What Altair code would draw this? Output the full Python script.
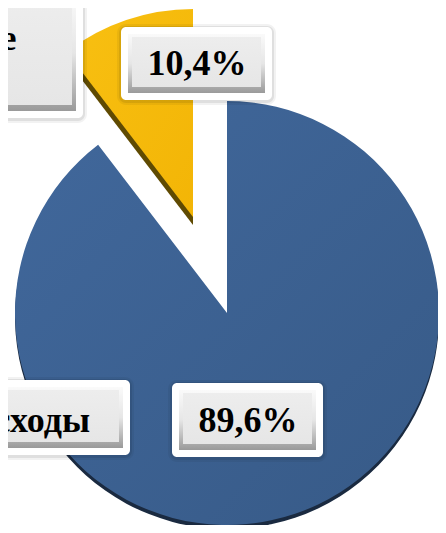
import altair as alt
import pandas as pd

# ---- data ----
categories = ["Текущие расходы", "Капитальные расходы"]
values = [89.6, 10.4]
order = [0, 1]

labels = [f"{v:.1f}".replace(".", ",") + "%" for v in values]
df = pd.DataFrame({"cat": categories, "value": values, "idx": order, "pct": labels})

BLUE_SH = "#1A2A40"
YEL_SH = "#5F4A02"
R_BLUE = 212
R_YEL = 208
FONT = "Liberation Serif"

base = alt.Chart(df)
theta = alt.Theta("value:Q", stack=True)
ordr = alt.Order("idx:Q")


def slice_layer(cat, fill, cx, cy, r):
    return base.mark_arc(outerRadius=r, stroke=None).encode(
        theta=theta,
        order=ordr,
        x=alt.value(cx),
        y=alt.value(cy),
        fill=alt.condition(alt.datum.cat == cat, alt.value(fill), alt.value("transparent")),
    )


blue_grad = {
    "gradient": "linear", "x1": 0, "y1": 0, "x2": 1, "y2": 1,
    "stops": [{"offset": 0, "color": "#41689C"}, {"offset": 1, "color": "#375A87"}],
}
yel_grad = {
    "gradient": "linear", "x1": 0, "y1": 0, "x2": 1, "y2": 1,
    "stops": [{"offset": 0, "color": "#F8C012"}, {"offset": 1, "color": "#F3B506"}],
}

arcs = [
    slice_layer(categories[0], BLUE_SH, 219, 309, R_BLUE),
    slice_layer(categories[0], blue_grad, 219, 305, R_BLUE),
    slice_layer(categories[1], YEL_SH, 185, 217, R_YEL),
    slice_layer(categories[1], yel_grad, 185, 209, R_YEL),
]

# ---- label box layout (pixel positions of annotation frames) ----
boxes = [
    (-20, 75, -20, 110),
    (113, 264, 19, 92),
    (-20, 122, 372, 447),
    (164, 315, 375, 449),
]


def rect(x1, x2, y1, y2, **kw):
    return alt.Chart(df).transform_filter(alt.datum.idx == 0).mark_rect(**kw).encode(
        x=alt.value(x1), x2=alt.value(x2), y=alt.value(y1), y2=alt.value(y2)
    )


bevel_grad = {
    "gradient": "linear", "x1": 0, "y1": 0, "x2": 0, "y2": 1,
    "stops": [
        {"offset": 0, "color": "#FAFAFA"},
        {"offset": 0.5, "color": "#E6E6E6"},
        {"offset": 1, "color": "#9A9A9A"},
    ],
}
face_grad = {
    "gradient": "linear", "x1": 0, "y1": 0, "x2": 0, "y2": 1,
    "stops": [{"offset": 0, "color": "#EDEDED"}, {"offset": 1, "color": "#E6E6E6"}],
}

box_layers = []
for (x1, x2, y1, y2) in boxes:
    box_layers += [
        rect(x1 - 4, x2 + 4, y1 - 3, y2 + 5, fill="#000000", opacity=0.05, cornerRadius=9),
        rect(x1 - 2, x2 + 2, y1 - 1, y2 + 3, fill="#000000", opacity=0.08, cornerRadius=7),
        rect(x1, x2, y1, y2, fill="#FFFFFF", cornerRadius=5),
        rect(x1 + 7, x2 - 7, y1 + 7, y2 - 7, fill=bevel_grad),
        rect(x1 + 7, x2 - 7, y1 + 7, y2 - 7, fill="#000000", opacity=0,
             stroke="#C8C8C8", strokeWidth=0.8),
        rect(x1 + 11, x2 - 11, y1 + 10, y2 - 13, fill=face_grad),
    ]


def text_layer(field_filter, field, x, y, align="center"):
    return base.transform_filter(field_filter).transform_calculate(
        cat2="replace(datum.cat, ' ', '\\n')"
    ).mark_text(
        font=FONT, fontSize=36, fontWeight="bold", color="#000000",
        align=align, baseline="alphabetic", lineBreak="\n", lineHeight=40,
    ).encode(x=alt.value(x), y=alt.value(y), text=alt.Text(field))


texts = [
    text_layer(alt.datum.idx == 1, "pct:N", 189, 67),
    text_layer(alt.datum.idx == 0, "pct:N", 240, 424),
    text_layer(alt.datum.idx == 0, "cat:N", 82, 424, align="right"),
    text_layer(alt.datum.idx == 1, "cat2:N", -104, 42, align="center"),
]

chart = alt.layer(*arcs, *box_layers, *texts).properties(
    width=430, height=517, padding=0,
    autosize=alt.AutoSizeParams(type="none"),
).configure_view(stroke=None)

chart.save("out.html", embed_options={"renderer": "svg", "actions": False})
